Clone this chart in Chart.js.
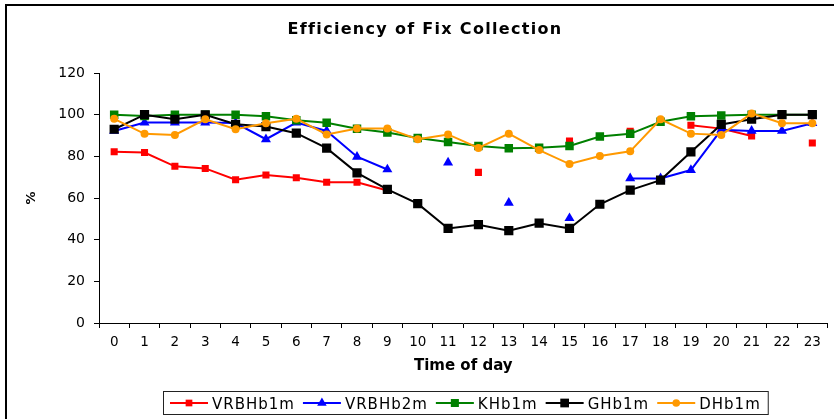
<!DOCTYPE html>
<html>
<head>
<meta charset="utf-8">
<title>Efficiency of Fix Collection</title>
<script src="https://cdn.jsdelivr.net/npm/chart.js@4.4.1/dist/chart.umd.min.js"></script>
<style>
  html, body { margin: 0; padding: 0; background: #fff; }
  #wrap { width: 834px; height: 419px; position: relative; }
</style>
</head>
<body>
<div id="wrap"><canvas id="chart"></canvas></div>
<script>
const chartTitle = 'Efficiency of Fix Collection';
const xTitle = 'Time of day';
const yTitle = '%';

const hours = ['0', '1', '2', '3', '4', '5', '6', '7', '8', '9', '10', '11',
  '12', '13', '14', '15', '16', '17', '18', '19', '20', '21', '22', '23'];
const yTicks = [0, 20, 40, 60, 80, 100, 120];

// null = no value for that hour (gap in the line)
const vrbhb1m = [82.2, 81.8, 75.2, 74.2, 68.8, 71.0, 69.7, 67.6, 67.6, 63.6, null, null,
  72.3, null, null, 87.4, null, 92.0, null, 94.9, 93.3, 89.8, null, 86.4];
const vrbhb2m = [92.2, 96.2, 96.2, 96.2, 96.0, 88.2, 96.2, 92.2, 79.8, 73.7, null, 77.0,
  null, 57.7, null, 50.3, null, 69.4, 69.4, 73.4, 92.7, 92.2, 92.2, 95.9];
const khb1m = [100, 99.4, 100, 100, 100, 99.2, 97.3, 96.1, 93.2, 91.4, 88.8, 86.9,
  85.0, 83.9, 84.1, 85.0, 89.5, 90.8, 96.6, 99.2, 99.6, 100, 100, 100];
const ghb1m = [93.0, 100, 97.8, 99.9, 95.4, 94.3, 91.1, 83.9, 72.1, 64.1, 57.3, 45.4,
  47.2, 44.3, 47.9, 45.4, 57.0, 63.8, 68.6, 82.1, 95.3, 97.8, 100, 100];
const dhb1m = [98.0, 90.8, 90.3, 97.8, 93.0, 95.9, 98.0, 90.5, 93.4, 93.4, 88.2, 90.5,
  84.0, 90.9, 83.0, 76.3, 80.2, 82.4, 97.8, 90.9, 90.3, 100.6, 95.9, 95.9];

const FONT = "'DejaVu Sans', 'Liberation Sans', sans-serif";
Chart.defaults.font.family = FONT;
Chart.defaults.color = '#000';

function makeSeries(label, data, color, style, radius, order) {
  return {
    label,
    data,
    borderColor: color,
    backgroundColor: color,
    borderWidth: 2,
    pointStyle: style,
    pointRadius: radius,
    pointHoverRadius: radius,
    pointBorderWidth: 0,
    pointBackgroundColor: color,
    spanGaps: false,
    tension: 0,
    order
  };
}

function drawMarker(ctx, style, x, y, r, color) {
  ctx.fillStyle = color;
  ctx.beginPath();
  if (style === 'rect') {
    const s = r * Math.SQRT1_2;
    ctx.rect(x - s, y - s, 2 * s, 2 * s);
  } else if (style === 'triangle') {
    let rad = 0;
    ctx.moveTo(x + Math.sin(rad) * r, y - Math.cos(rad) * r);
    rad += Math.PI * 2 / 3;
    ctx.lineTo(x + Math.sin(rad) * r, y - Math.cos(rad) * r);
    rad += Math.PI * 2 / 3;
    ctx.lineTo(x + Math.sin(rad) * r, y - Math.cos(rad) * r);
    ctx.closePath();
  } else {
    ctx.arc(x, y, r, 0, Math.PI * 2);
  }
  ctx.fill();
}

// frame, title and the line+marker legend of the original
const decorPlugin = {
  id: 'decor',
  beforeDraw(chart) {
    const ctx = chart.ctx;
    ctx.save();
    ctx.fillStyle = '#fff';
    ctx.fillRect(0, 0, chart.width, chart.height);
    ctx.restore();
  },
  afterDraw(chart) {
    const ctx = chart.ctx;
    ctx.save();

    ctx.strokeStyle = '#000';
    ctx.lineWidth = 2;
    ctx.beginPath();
    ctx.moveTo(6, chart.height);
    ctx.lineTo(6, 5);
    ctx.lineTo(chart.width, 5);
    ctx.stroke();

    ctx.fillStyle = '#000';
    ctx.font = 'bold 16px ' + FONT;
    ctx.letterSpacing = '1.3px';
    ctx.textAlign = 'center';
    ctx.textBaseline = 'alphabetic';
    ctx.fillText(chartTitle, 425, 34);

    ctx.font = '15px ' + FONT;
    ctx.letterSpacing = '1px';
    ctx.textAlign = 'left';
    let x = 170;
    const y = 403;
    chart.data.datasets.forEach(ds => {
      ctx.strokeStyle = ds.borderColor;
      ctx.lineWidth = 2;
      ctx.beginPath();
      ctx.moveTo(x, y);
      ctx.lineTo(x + 38, y);
      ctx.stroke();
      drawMarker(ctx, ds.pointStyle, x + 19, y, ds.pointRadius * 0.95, ds.backgroundColor);
      ctx.fillStyle = '#000';
      ctx.fillText(ds.label, x + 42, y + 5.5);
      x += 42 + ctx.measureText(ds.label).width + 8;
    });
    ctx.strokeStyle = '#222';
    ctx.lineWidth = 1;
    ctx.strokeRect(163.5, 391.5, x - 164, 23);

    ctx.restore();
  }
};

const ctx = document.getElementById('chart').getContext('2d');
new Chart(ctx, {
  type: 'line',
  data: {
    labels: hours,
    datasets: [
      makeSeries('VRBHb1m', vrbhb1m, '#ff0000', 'rect', 5, 5),
      makeSeries('VRBHb2m', vrbhb2m, '#0000ff', 'triangle', 5.8, 4),
      makeSeries('KHb1m', khb1m, '#008000', 'rect', 6, 3),
      makeSeries('GHb1m', ghb1m, '#000000', 'rect', 6.5, 2),
      makeSeries('DHb1m', dhb1m, '#ff9900', 'circle', 4, 1)
    ]
  },
  options: {
    responsive: true,
    maintainAspectRatio: false,
    animation: false,
    layout: { padding: { top: 73, right: 2, left: 0, bottom: 0 } },
    scales: {
      x: {
        offset: true,
        grid: {
          offset: true,
          drawOnChartArea: false,
          drawTicks: true,
          tickLength: 5,
          color: '#000'
        },
        border: { color: '#000', width: 1 },
        ticks: { font: { size: 13.5 }, padding: 6, maxRotation: 0, autoSkip: false, color: '#000' },
        title: {
          display: true,
          text: xTitle,
          font: { size: 15, weight: 'bold' },
          padding: { top: 0, bottom: 44 },
          color: '#000'
        },
        afterFit(scale) { scale.height = 96; }
      },
      y: {
        min: yTicks[0],
        max: yTicks[yTicks.length - 1],
        grid: {
          drawOnChartArea: false,
          drawTicks: true,
          tickLength: 5,
          color: '#000'
        },
        border: { color: '#000', width: 1 },
        ticks: { stepSize: yTicks[1] - yTicks[0], font: { size: 14 }, padding: 9, color: '#000' },
        title: {
          display: true,
          text: yTitle,
          font: { size: 13, weight: 'bold' },
          padding: { top: 24, bottom: 0 },
          color: '#000'
        },
        afterFit(scale) { scale.width = 99; }
      }
    },
    plugins: {
      legend: { display: false },
      title: { display: false },
      tooltip: { enabled: false }
    }
  },
  plugins: [decorPlugin]
});
</script>
</body>
</html>
